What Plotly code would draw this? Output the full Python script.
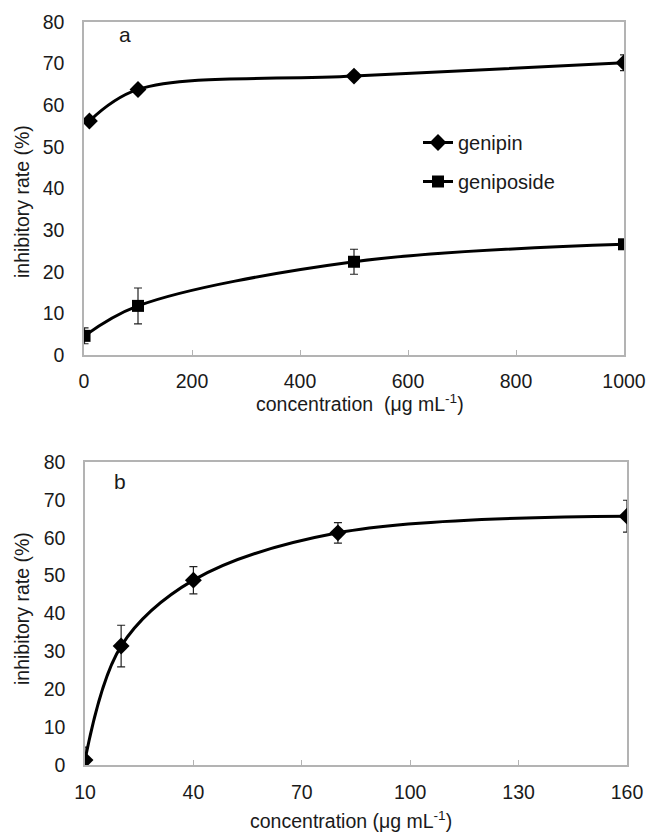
import plotly.graph_objects as go

# Panel a
genipin_x = [10, 100, 500, 1000]
genipin_y = [56.2, 63.8, 67.0, 70.2]
genipin_err = [0.8, 0.8, 0.6, 1.9]
geniposide_x = [1, 100, 500, 1000]
geniposide_y = [4.6, 11.8, 22.4, 26.6]
geniposide_err = [1.9, 4.3, 3.0, 0.8]

# Panel b
b_x = [10, 20, 40, 80, 160]
b_y = [1.3, 31.4, 48.8, 61.3, 65.7]
b_err = [3.4, 5.5, 3.6, 2.7, 4.2]

a_xticks = [0, 200, 400, 600, 800, 1000]
b_xticks = [10, 40, 70, 100, 130, 160]
yticks = [0, 10, 20, 30, 40, 50, 60, 70, 80]

FONT = "Liberation Sans, Arial, sans-serif"
AX = "#b3b3b3"
TXT = "#1a1a1a"

fig = go.Figure()

def err(vals):
    return dict(type="data", array=vals, visible=True, color="#222", thickness=1.2, width=4)

fig.add_trace(go.Scatter(x=genipin_x, y=genipin_y, mode="lines+markers", name="genipin",
                         line=dict(color="black", width=3, shape="spline", smoothing=1.0),
                         marker=dict(symbol="diamond", size=13, color="black"),
                         error_y=err(genipin_err), xaxis="x", yaxis="y", legendgroup="g1"))
fig.add_trace(go.Scatter(x=geniposide_x, y=geniposide_y, mode="lines+markers", name="geniposide",
                         line=dict(color="black", width=3, shape="spline", smoothing=1.0),
                         marker=dict(symbol="square", size=12, color="black"),
                         error_y=err(geniposide_err), xaxis="x", yaxis="y", legendgroup="g2"))
fig.add_trace(go.Scatter(x=b_x, y=b_y, mode="lines+markers", name="b", showlegend=False,
                         line=dict(color="black", width=3, shape="spline", smoothing=1.0),
                         marker=dict(symbol="diamond", size=13, color="black"),
                         error_y=err(b_err), xaxis="x2", yaxis="y2"))

W, H = 649, 834
L, R, T, B = 84, 22, 22, 69
pw = W - L - R
ph = H - T - B

def sx(p):  # screen px -> paper x
    return (p - L) / pw

def sy(p):  # screen px -> paper y
    return (H - B - p) / ph

axis_common = dict(showline=True, linecolor=AX, linewidth=1.5, mirror=True, showgrid=False,
                   zeroline=False, automargin=False,
                   tickfont=dict(family=FONT, size=19.5, color=TXT))

def ann(text, x, y, size=19.5, angle=0):
    return dict(text=text, x=sx(x), y=sy(y), xref="paper", yref="paper", showarrow=False,
                xanchor="center", yanchor="middle", textangle=angle,
                font=dict(family=FONT, size=size, color=TXT))

fig.update_layout(
    width=W, height=H, margin=dict(l=L, r=R, t=T, b=B, autoexpand=False),
    paper_bgcolor="white", plot_bgcolor="white",
    font=dict(family=FONT, color=TXT),
    xaxis=dict(domain=[sx(84), sx(624)], anchor="y", range=[0, 1000], tickvals=a_xticks,
               ticks="inside", ticklen=5, tickcolor=AX, ticklabelstandoff=8, **axis_common),
    yaxis=dict(domain=[sy(355), sy(22)], anchor="x", range=[0, 80], tickvals=yticks,
               ticks="", ticklabelstandoff=14, **axis_common),
    xaxis2=dict(domain=[sx(85), sx(627)], anchor="y2", range=[10, 160], tickvals=b_xticks,
                ticks="inside", ticklen=5, tickcolor=AX, ticklabelstandoff=9, **axis_common),
    yaxis2=dict(domain=[sy(765), sy(462)], anchor="x2", range=[0, 80], tickvals=yticks,
                ticks="", ticklabelstandoff=14, **axis_common),
    legend=dict(x=sx(418), y=sy(123), xanchor="left", yanchor="top",
                font=dict(family=FONT, size=20, color=TXT), bgcolor="rgba(0,0,0,0)",
                tracegroupgap=10, itemwidth=30),
    showlegend=True,
    annotations=[
        ann("a", 125, 35, 21),
        ann("b", 120, 482, 21),
        ann("concentration  (μg mL<sup>-1</sup>)", 360, 403),
        ann("concentration (μg mL<sup>-1</sup>)", 351, 820),
        ann("inhibitory rate (%)", 22, 202, angle=-90),
        ann("inhibitory rate (%)", 22, 609, angle=-90),
    ],
)

fig.write_html("out.html", config={"displayModeBar": False},
               post_script="document.body.style.margin='0';document.body.style.overflow='hidden';")
